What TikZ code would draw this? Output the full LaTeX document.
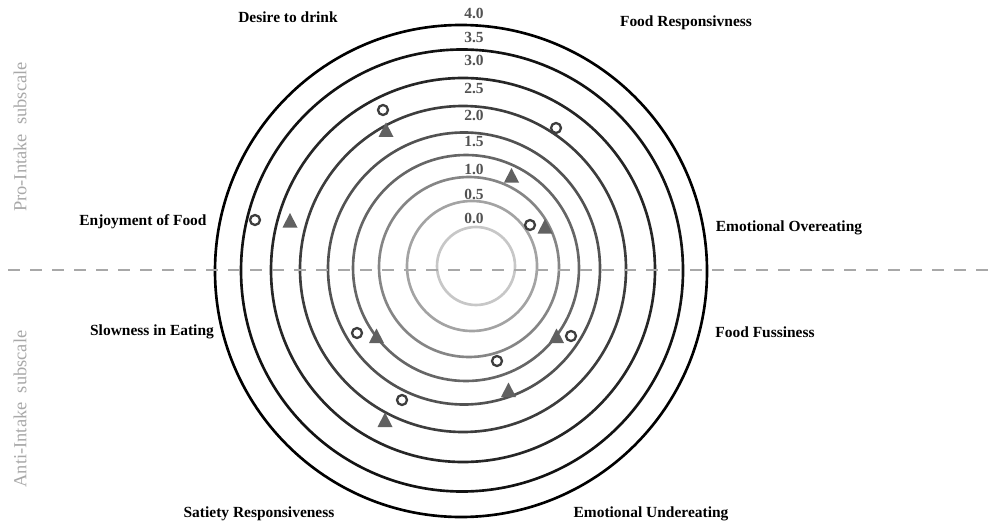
\documentclass[tikz,border=0pt]{standalone}
\usepackage{fontspec}
\setmainfont{Liberation Serif}
\usepackage{tikz}

\definecolor{ringA}{gray}{0.78}
\definecolor{ringB}{gray}{0.64}
\definecolor{ringC}{gray}{0.52}
\definecolor{ringD}{gray}{0.40}
\definecolor{ringE}{gray}{0.32}
\definecolor{ringF}{gray}{0.24}
\definecolor{ringG}{gray}{0.15}
\definecolor{ringH}{gray}{0.07}
\definecolor{markgray}{gray}{0.38}
\definecolor{dotgray}{gray}{0.24}
\definecolor{splitgray}{gray}{0.66}

\begin{document}
\begin{tikzpicture}[scale=0.2,
  ring/.style={line width=1.5pt},
  scalelabel/.style={font=\fontsize{8.8}{10}\selectfont\bfseries, text=black!68},
  facet/.style={font=\fontsize{8.8}{10}\selectfont\bfseries},
  subscale/.style={font=\fontsize{10.5}{12}\selectfont, text=splitgray, rotate=90},
  divider/.style={splitgray, line width=1.7pt, dash pattern=on 0.24cm off 0.2cm},
  opendot/.style={dotgray, line width=1.3pt},
  tri/.style={markgray}
]
\tikzstyle{every node}+=[inner sep=0pt]
\useasboundingbox (0,0) rectangle (99.2,-52.2);
% rings, inner to outer
\draw [ring, ringA] (47.6,-26.6) circle (3.9);
\draw [ring, ringB] (47.2,-26.6) circle (6.5);
\draw [ring, ringC] (46.9,-26.7) circle (9.0);
\draw [ring, ringD] (46.6,-26.8) circle (11.3);
\draw [ring, ringE] (46.4,-26.85) circle (13.6);
\draw [ring, ringF] (46.3,-26.9) circle (16.3);
\draw [ring, ringG] (46.3,-27.0) circle (19.2);
\draw [ring, ringH] (46.2,-27.05) circle (22.1);
\draw [ring, black] (46.1,-27.1) circle (24.6);
% ring values
\draw (47.4,-1.3) node (v40) [scalelabel] {4.0};
\draw (47.4,-3.7) node (v35) [scalelabel] {3.5};
\draw (47.4,-6.0) node (v30) [scalelabel] {3.0};
\draw (47.4,-8.8) node (v25) [scalelabel] {2.5};
\draw (47.4,-11.5) node (v20) [scalelabel] {2.0};
\draw (47.4,-14.2) node (v15) [scalelabel] {1.5};
\draw (47.4,-16.9) node (v10) [scalelabel] {1.0};
\draw (47.4,-19.4) node (v05) [scalelabel] {0.5};
\draw (47.4,-21.8) node (v00) [scalelabel] {0.0};
% split between subscales
\draw [divider] (0.8,-27.0) -- (99.2,-27.0);
\draw (2.0,-13.7) node (pro) [subscale] {Pro-Intake\ \ subscale};
\draw (2.0,-40.9) node (anti) [subscale] {Anti-Intake\ \ subscale};
% facets
\draw (28.8,-1.7) node (desire) [facet] {Desire to drink};
\draw (68.6,-2.3) node (foodresp) [facet] {Food Responsivness};
\draw (78.9,-22.8) node (emoover) [facet] {Emotional Overeating};
\draw (14.3,-22.2) node (enjoy) [facet] {Enjoyment of Food};
\draw (15.2,-33.2) node (slow) [facet] {Slowness in Eating};
\draw (76.5,-33.2) node (fuss) [facet] {Food Fussiness};
\draw (25.9,-51.4) node (satiety) [facet] {Satiety Responsiveness};
\draw (65.1,-51.4) node (emounder) [facet] {Emotional Undereating};
% open circles
\draw [opendot] (38.3,-11.0) circle (0.5);
\draw [opendot] (55.6,-12.8) circle (0.5);
\draw [opendot] (53.0,-22.5) circle (0.5);
\draw [opendot] (25.5,-22.0) circle (0.5);
\draw [opendot] (35.7,-33.3) circle (0.5);
\draw [opendot] (57.1,-33.6) circle (0.5);
\draw [opendot] (49.7,-36.1) circle (0.5);
\draw [opendot] (40.2,-40.0) circle (0.5);
% triangles
\fill [tri] (38.6,-12.25) -- (37.85,-13.7) -- (39.35,-13.7) -- cycle;
\fill [tri] (51.15,-16.8) -- (50.4,-18.25) -- (51.9,-18.25) -- cycle;
\fill [tri] (54.5,-21.9) -- (53.75,-23.35) -- (55.25,-23.35) -- cycle;
\fill [tri] (29.0,-21.3) -- (28.25,-22.75) -- (29.75,-22.75) -- cycle;
\fill [tri] (37.65,-32.85) -- (36.9,-34.3) -- (38.4,-34.3) -- cycle;
\fill [tri] (55.65,-32.85) -- (54.9,-34.3) -- (56.4,-34.3) -- cycle;
\fill [tri] (50.85,-38.25) -- (50.1,-39.7) -- (51.6,-39.7) -- cycle;
\fill [tri] (38.5,-41.25) -- (37.75,-42.7) -- (39.25,-42.7) -- cycle;
\end{tikzpicture}
\end{document}
